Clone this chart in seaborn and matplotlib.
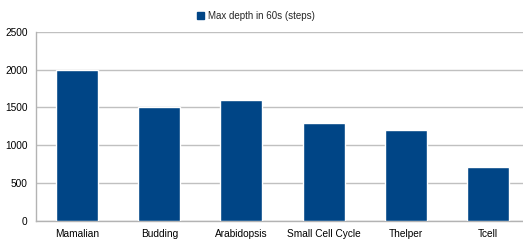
import matplotlib
matplotlib.use("Agg")
from matplotlib import pyplot as plt
from matplotlib.patches import Patch
import numpy as np
import pandas as pd
import seaborn as sns

# data
models = ["Mamalian", "Budding", "Arabidopsis", "Small Cell Cycle", "Thelper", "Tcell"]
max_depth = [2000, 1500, 1600, 1300, 1200, 710]
series_name = "Max depth in 60s (steps)"

df = pd.DataFrame({"model": models, "depth": max_depth})

sns.set_style("white")
plt.rcParams["font.family"] = ["Liberation Sans", "DejaVu Sans"]
plt.rcParams["font.size"] = 7.3

bar_color = "#004586"
grid_color = "#c0c0c0"

fig = plt.figure(figsize=(5.23, 2.40), dpi=100)
# plot area runs slightly past the right edge, like the original
ax = fig.add_axes([36 / 523, 19.3 / 240, 493 / 523, 188.7 / 240])

sns.barplot(data=df, x="model", y="depth", color=bar_color, width=0.51,
            saturation=1, ax=ax, zorder=3)

ax.set_ylim(0, 2500)
ax.set_yticks(np.arange(0, 2501, 500))
ax.set_xlim(-0.5, len(models) - 0.5)
ax.set_xlabel("")
ax.set_ylabel("")

ax.yaxis.grid(True, color=grid_color, linewidth=1, zorder=0)
ax.set_axisbelow(True)

for side in ["top", "right"]:
    ax.spines[side].set_visible(False)
for side in ["left", "bottom"]:
    ax.spines[side].set_color("#b3b3b3")
    ax.spines[side].set_linewidth(1)

ax.tick_params(axis="y", which="major", direction="out", length=4, width=1,
               color="#b3b3b3", pad=2, labelcolor="black")
ax.tick_params(axis="x", which="major", length=0, pad=6, labelcolor="black")
ax.set_xticks(np.arange(-0.5, len(models), 1.0), minor=True)
ax.tick_params(axis="x", which="minor", direction="out", length=4, width=1,
               color="#b3b3b3")

handle = Patch(facecolor=bar_color, edgecolor=bar_color)
fig.legend([handle], [series_name], loc="center", bbox_to_anchor=(256 / 523, 1 - 16 / 240),
           frameon=False, handlelength=0.7, handleheight=0.7, handletextpad=0.4,
           fontsize=7)

fig.savefig("out.png", dpi=100)
